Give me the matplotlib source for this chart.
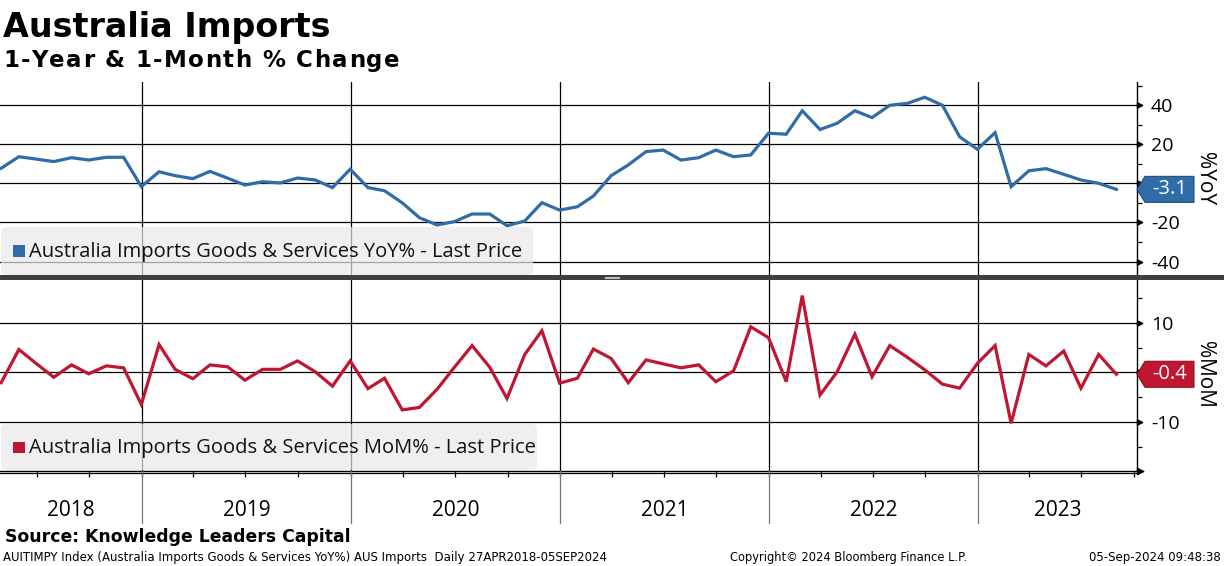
import numpy as np
import pandas as pd
import matplotlib
matplotlib.use("Agg")
import matplotlib.pyplot as plt
import matplotlib.dates as mdates
from matplotlib.patches import Polygon, FancyBboxPatch, Rectangle
from matplotlib.lines import Line2D
from matplotlib.path import Path
from matplotlib.transforms import blended_transform_factory, IdentityTransform
from matplotlib.ft2font import FT2Font
from matplotlib.font_manager import FontProperties, findfont

W, H = 1224, 566
BLUE = "#2f6ca8"
RED = "#bf1632"
SANS = ["Open Sans", "DejaVu Sans"]

# monthly observations, month-end
dates = pd.period_range("2018-04", periods=65, freq="M").end_time.normalize()
yoy = [7.7, 13.6, 12.4, 11.1, 13.1, 11.9, 13.3, 13.3, -1.7, 5.9,
       3.9, 2.4, 6.1, 2.6, -0.9, 0.8, 0.2, 2.7, 1.7, -2.2,
       7.2, -2.2, -3.8, -10.0, -17.6, -21.3, -19.6, -15.7, -15.7, -21.7,
       -19.3, -9.9, -13.7, -12.0, -6.5, 3.9, 9.4, 16.2, 17.0, 11.9,
       13.1, 17.0, 13.6, 14.5, 25.6, 25.1, 37.1, 27.5, 30.7, 37.1,
       33.6, 39.9, 40.9, 44.0, 39.9, 23.8, 17.4, 25.9, -1.7, 6.4,
       7.5, 4.6, 1.7, 0.0, -3.1]
mom = [-2.1, 4.6, 1.8, -1.0, 1.5, -0.3, 1.3, 0.9, -6.5, 5.6,
       0.6, -1.3, 1.5, 1.1, -1.6, 0.6, 0.6, 2.3, 0.1, -2.8,
       2.3, -3.3, -1.2, -7.6, -7.1, -3.4, 1.0, 5.4, 1.0, -5.3,
       3.6, 8.4, -2.2, -1.2, 4.7, 2.8, -2.1, 2.5, 1.7, 0.9,
       1.5, -1.9, 0.3, 9.2, 7.0, -1.9, 15.5, -4.6, 0.1, 7.7,
       -0.9, 5.4, 3.0, 0.5, -2.4, -3.2, 1.8, 5.4, -10.3, 3.6,
       1.3, 4.3, -3.2, 3.6, -0.4]
years = [2018, 2019, 2020, 2021, 2022, 2023]
yoy_ticks = [40, 20, 0, -20, -40]
yoy_minor = [50, 30, 10, -10, -30]
mom_ticks = [10, 0, -10]
mom_minor = [15, 5, -5, -15]

xlim = (pd.Timestamp("2018-04-28"), pd.Timestamp("2023-10-06"))

fig = plt.figure(figsize=(W / 100, H / 100), dpi=100)


def px_axes(l, t, r, b):
    return fig.add_axes([l / W, 1 - b / H, (r - l) / W, (b - t) / H])


def tracked_text(x, y, s, size, track, **kw):
    # bloomberg spaces the subtitle letters out a little; place glyph by glyph
    prop = FontProperties(family="DejaVu Sans", weight="bold", size=size)
    font = FT2Font(findfont(prop))
    font.set_size(size, 100)
    for ch in s:
        if ch != " ":
            fig.text(x / W, 1 - y / H, ch, fontproperties=prop, ha="left", va="baseline", **kw)
        x += font.load_char(ord(ch)).linearHoriAdvance / 65536 + track


ax1 = px_axes(0, 82, 1137, 276)
ax2 = px_axes(0, 278, 1137, 471)

# right-pointing tick arrow marker
tri = Path([(0, -0.5), (1, 0), (0, 0.5), (0, -0.5)],
           [Path.MOVETO, Path.LINETO, Path.LINETO, Path.CLOSEPOLY])

panels = [(ax1, dates, yoy, BLUE, (-47.4, 51.8), yoy_ticks, yoy_minor, "%YoY"),
          (ax2, dates, mom, RED, (-19.94, 19.05), mom_ticks, mom_minor, "%MoM")]

for ax, x, y, col, ylim, ticks, minor, lab in panels:
    ax.set_xlim(*xlim)
    ax.set_ylim(*ylim)
    for s in ("top", "left", "bottom"):
        ax.spines[s].set_visible(False)
    ax.spines["right"].set_linewidth(1.0)
    for t in ticks:
        ax.axhline(t, color="black", lw=0.9, zorder=1)
    for yr in years[1:]:
        ax.axvline(pd.Timestamp(f"{yr}-01-01"), color="black", lw=0.9, zorder=1)
    ax.plot(x, y, color=col, lw=2.3, zorder=3, solid_joinstyle="miter")
    ax.yaxis.tick_right()
    ax.set_yticks(ticks)
    ax.set_yticklabels([str(t) if t != 0 else "" for t in ticks], family=SANS, fontsize=14)
    ax.set_yticks(minor, minor=True)
    ax.tick_params(axis="y", which="major", length=0, pad=10)
    ax.tick_params(axis="y", which="minor", length=3.5, width=0.9, direction="out")
    tr = blended_transform_factory(ax.transAxes, ax.transData)
    ax.plot([1.0] * len(ticks), ticks, ls="none", marker=tri, ms=7.5, color="black",
            transform=tr, clip_on=False, zorder=5)
    ax.set_ylabel(lab, rotation=270, family=SANS, fontsize=15)
    ax.yaxis.set_label_position("right")
    ax.yaxis.set_label_coords(1.069, 0.5)

ax1.set_xticks([])
q_ticks = pd.date_range("2018-07-01", "2023-10-01", freq="QS")
ax2.set_xticks(q_ticks)
ax2.set_xticklabels([])
ax2.tick_params(axis="x", which="major", length=4, width=0.9, direction="out")
ax2.spines["bottom"].set_visible(True)
ax2.spines["bottom"].set_linewidth(1.0)

# second rule under the x axis and end arrow
fig.add_artist(Line2D([0, 1137 / W], [1 - 472.8 / H] * 2, color="black", lw=0.9))
fig.add_artist(Line2D([1137 / W], [1 - 471 / H], marker=tri, ms=9, color="black", ls="none"))

# year boundaries below the axis and year labels
to_px = lambda d: ax2.transData.transform((mdates.date2num(d), 0))[0]
bounds = [to_px(xlim[0])] + [to_px(pd.Timestamp(f"{yr}-01-01")) for yr in years[1:]] + [to_px(xlim[1])]
for bx in bounds[1:-1]:
    fig.add_artist(Line2D([bx / W] * 2, [1 - 471 / H, 1 - 523 / H], color="#777777", lw=0.9))
for i, yr in enumerate(years):
    cx = 0.5 * (bounds[i] + bounds[i + 1])
    fig.text(cx / W, 1 - 511 / H, str(yr), ha="center", va="center", family=SANS, fontsize=15)

# separator between panels
fig.add_artist(Rectangle((0, 1 - 280 / H), 1, 5 / H, color="#3f3f3f", lw=0))
for yy in (276.6, 278.2):
    fig.add_artist(Line2D([605 / W, 619 / W], [1 - yy / H] * 2, color="#bdbdbd", lw=0.8))

# legend boxes
legends = [((1, 227, 533, 275), (252, 251), BLUE, "Australia Imports Goods & Services YoY% - Last Price"),
           ((1, 424, 537, 470), (448, 447), RED, "Australia Imports Goods & Services MoM% - Last Price")]
for (l, t, r, b), (ty, sy), col, txt in legends:
    fig.add_artist(FancyBboxPatch((l / W, 1 - b / H), (r - l) / W, (b - t) / H,
                                  boxstyle="round,pad=0,rounding_size=0.006",
                                  fc="#e9e9e9", ec="none", alpha=0.7, zorder=4))
    fig.add_artist(Rectangle((13 / W, 1 - (sy + 5.5) / H), 12 / W, 11 / H, color=col, lw=0, zorder=5))
    fig.text(29 / W, 1 - ty / H, txt, ha="left", va="center", family=SANS, fontsize=14.5,
             color="#111111", zorder=6)

# last-value tags on the right axis
for ax, val, col, ec in ((ax1, yoy[-1], BLUE, "#1d4f80"), (ax2, mom[-1], RED, "#8d0f24")):
    yc = ax.transData.transform((0, val))[1]
    x0, x1, x2, hh = 1137, 1145, 1194, 13
    poly = Polygon([(x0, yc), (x1, yc + hh), (x2, yc + hh), (x2, yc - hh), (x1, yc - hh)],
                   closed=True, fc=col, ec=ec, lw=0.8, transform=IdentityTransform(), zorder=7)
    fig.add_artist(poly)
    fig.text((x1 + x2) / 2 / W + 0.0005, yc / H, f"{val:.1f}", ha="center", va="center",
             color="white", family=SANS, fontsize=14.5, zorder=8)

# titles and footer
fig.text(3 / W, 1 - 36.5 / H, "Australia Imports", ha="left", va="baseline",
         fontsize=24, fontweight="bold", family="DejaVu Sans")
tracked_text(3, 67, "1-Year & 1-Month % Change", 16.5, 1.4)
fig.text(5 / W, 1 - 537 / H, "Source: Knowledge Leaders Capital", ha="left", va="center",
         fontsize=12.4, fontweight="bold", family="DejaVu Sans")
fig.text(3 / W, 1 - 557 / H,
         "AUITIMPY Index (Australia Imports Goods & Services YoY%) AUS Imports  Daily 27APR2018-05SEP2024",
         ha="left", va="center", fontsize=8.5, family="DejaVu Sans")
fig.text(730 / W, 1 - 557 / H, "Copyright\u00a9 2024 Bloomberg Finance L.P.",
         ha="left", va="center", fontsize=8.3, family="DejaVu Sans")
fig.text(1221 / W, 1 - 557 / H, "05-Sep-2024 09:48:38",
         ha="right", va="center", fontsize=8.5, family="DejaVu Sans")

fig.savefig("out.png", dpi=100)
